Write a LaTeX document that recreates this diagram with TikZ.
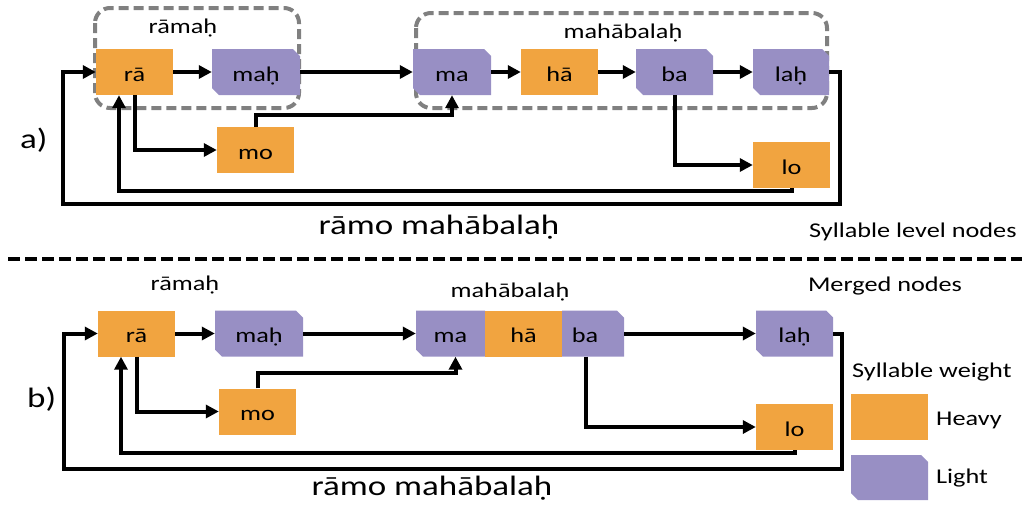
\documentclass[tikz,border=0pt]{standalone}
\usepackage{fontspec}
\setmainfont{Carlito}[FakeStretch=1.25]
\usetikzlibrary{arrows.meta,calc}
\definecolor{heavyc}{RGB}{241,164,64}
\definecolor{lightc}{RGB}{152,143,196}
\definecolor{grpc}{RGB}{128,128,128}
\begin{document}
\begin{tikzpicture}[x=1pt,y=-1pt,
  syl/.style={inner sep=0pt, minimum height=46pt, text height=18pt, text depth=0pt, font=\fontsize{21}{25}\selectfont},
  heavy/.style={syl, fill=heavyc},
  chamf/.style 2 args={syl, path picture={\fill[lightc] (path picture bounding box.north west) -- ([xshift=-#1]path picture bounding box.north east) -- ([yshift=-#1]path picture bounding box.north east) -- (path picture bounding box.south east) -- ([xshift=#2]path picture bounding box.south west) -- ([yshift=#2]path picture bounding box.south west) -- cycle;}},
  light/.style={chamf={7pt}{7pt}},
  conn/.style={line width=4pt, -{Triangle[length=13pt,width=13pt]}},
  grp/.style={draw=grpc, line width=4pt, dash pattern=on 10pt off 5pt, rounded corners=15pt},
  lbl/.style={font=\fontsize{21}{25}\selectfont, anchor=base, inner sep=0pt},
  big/.style={font=\fontsize{28}{32}\selectfont, anchor=base, inner sep=0pt}
]
\useasboundingbox (0,0) rectangle (1026,515);
% ---------------- panel a ----------------
\draw[grp] (95,8) rectangle (299,108);
\draw[grp] (416,13) rectangle (827,108);
\node[lbl] (t1) at (183,33) {rāmaḥ};
\node[lbl] (t2) at (623,38) {mahābalaḥ};
\node[heavy, minimum width=77pt] (ra1) at (134.5,72) {rā};
\node[light, minimum width=88pt] (mah1) at (256,72) {maḥ};
\node[heavy, minimum width=77pt] (mo1) at (255.5,150) {mo};
\node[light, minimum width=78pt] (ma1) at (452,72) {ma};
\node[heavy, minimum width=77pt] (ha1) at (559.5,72) {hā};
\node[light, minimum width=77pt] (ba1) at (674.5,72) {ba};
\node[light, minimum width=76pt] (lah1) at (791,72) {laḥ};
\node[heavy, minimum width=77pt] (lo1) at (791.5,165) {lo};
\draw[conn] (ra1.east) -- (mah1.west);
\draw[conn] (mah1.east) -- (ma1.west);
\draw[conn] (ma1.east) -- (ha1.west);
\draw[conn] (ha1.east) -- (ba1.west);
\draw[conn] (ba1.east) -- (lah1.west);
\draw[conn] (ra1.south) |- (mo1.west);
\draw[conn] (mo1.north) |- ([yshift=-20pt]ma1.south) -- (ma1.south);
\draw[conn] (ba1.south) |- (lo1.west);
\draw[conn] (lah1.east) -- ++(11,0) |- (63,204) |- (ra1.west);
\coordinate (a1) at (119,191);
\draw[conn] (lo1.south) |- (a1) -- (a1 |- ra1.south);
\node[big] (s1) at (439,234) {rāmo mahābalaḥ};
\node[lbl, anchor=base west] (lv1) at (809,237) {Syllable level nodes};
\node[big, anchor=base west] (pa) at (20,148) {a)};
% separator
\draw[line width=4pt, dash pattern=on 12pt off 5pt] (8,259) -- (1022,259);
% ---------------- panel b ----------------
\node[lbl] (t3) at (185,290) {rāmaḥ};
\node[lbl] (t4) at (510,297) {mahābalaḥ};
\node[lbl] (t5) at (885,291) {Merged nodes};
\node[heavy, minimum width=77pt] (ra2) at (136.5,333.5) {rā};
\node[light, minimum width=88pt] (mah2) at (259,333.5) {maḥ};
\node[heavy, minimum width=77pt] (mo2) at (257.5,411.5) {mo};
\node[chamf={0pt}{7pt}, minimum width=69pt] (ma2) at (450.5,333.5) {ma};
\node[chamf={7pt}{0pt}, minimum width=62pt] (ba2) at (593,333.5) {\kern-16pt ba};
\node[heavy, minimum width=77pt] (ha2) at (523.5,333.5) {hā};
\node[light, minimum width=77pt] (lah2) at (794.5,333.5) {laḥ};
\node[heavy, minimum width=77pt] (lo2) at (794.5,427) {lo};
\draw[conn] (ra2.east) -- (mah2.west);
\draw[conn] (mah2.east) -- (ma2.west);
\draw[conn] (ba2.east) -- (lah2.west);
\draw[conn] (ra2.south) |- (mo2.west);
\draw[conn] (mo2.north) |- ([xshift=5pt,yshift=-16pt]ma2.south) -- ([xshift=5pt]ma2.south);
\draw[conn] ([xshift=-7pt]ba2.south) |- (lo2.west);
\draw[conn] (lah2.east) -- ++(8.5,0) |- (64,469) |- (ra2.west);
\coordinate (b1) at (121,453);
\draw[conn] (lo2.south) |- (b1) -- (b1 |- ra2.south);
\node[big] (s2) at (432,495) {rāmo mahābalaḥ};
\node[big, anchor=base west] (pb) at (27,407) {b)};
% legend
\node[lbl, anchor=base west] (lg) at (852,377) {Syllable weight};
\node[heavy, minimum width=77pt] (legh) at (889.5,417) {};
\node[light, minimum width=77pt, minimum height=45pt] (legl) at (889.5,477.5) {};
\node[lbl, anchor=base west] (lgh) at (936,425) {Heavy};
\node[lbl, anchor=base west] (lgl) at (936,483) {Light};
\end{tikzpicture}
\end{document}
